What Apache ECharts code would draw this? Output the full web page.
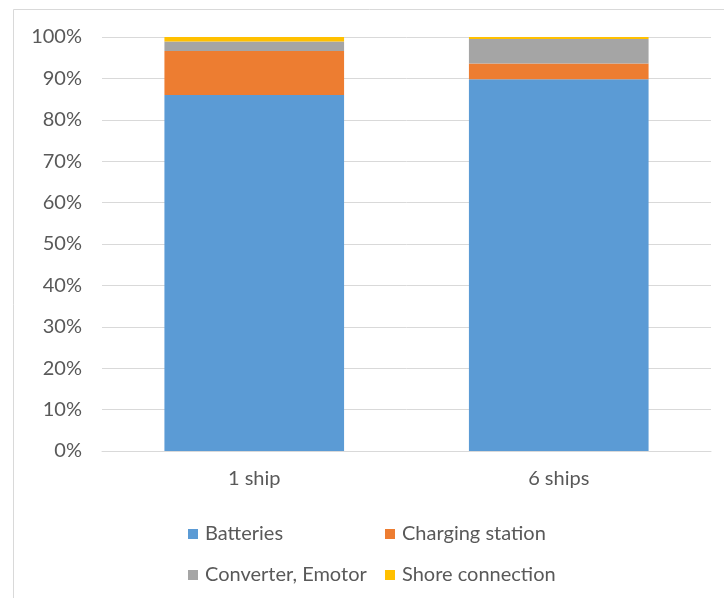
<!DOCTYPE html>
<html>
<head>
<meta charset="utf-8">
<script src="https://cdn.jsdelivr.net/npm/echarts@6/dist/echarts.min.js"></script>
<style>
  html, body { margin: 0; padding: 0; background: #fff; }
  #chart { width: 724px; height: 598px; }
</style>
</head>
<body>
<div id="chart"></div>
<script>
// Cost share by component (percent of total)
const categories = ['1 ship', '6 ships'];
const batteries = [86.0, 89.8];
const chargingStation = [10.6, 3.8];
const converterEmotor = [2.3, 5.9];
const shoreConnection = [1.1, 0.5];

const seriesNames = ['Batteries', 'Charging station', 'Converter, Emotor', 'Shore connection'];
const seriesColors = ['#5B9BD5', '#ED7D31', '#A5A5A5', '#FFC000'];
const seriesData = [batteries, chargingStation, converterEmotor, shoreConnection];

const textColor = '#595959';
const fontFamily = 'Lato, "Open Sans", sans-serif';
const fontSize = 20;

const chart = echarts.init(document.getElementById('chart'));

const legendBase = {
  orient: 'vertical',
  top: 519,
  itemWidth: 10,
  itemHeight: 10,
  itemGap: 21,
  icon: 'rect',
  textStyle: { color: textColor, fontSize: fontSize, fontFamily: fontFamily, padding: [0, 0, 0, 2] },
  selectedMode: false
};

chart.setOption({
  animation: false,
  backgroundColor: '#fff',
  graphic: [{
    type: 'rect',
    shape: { x: 13.5, y: 9.5, width: 730, height: 620 },
    style: { fill: 'none', stroke: '#d9d9d9', lineWidth: 1 },
    silent: true
  }],
  grid: { left: 102, right: 13, top: 37, bottom: 147 },
  legend: [
    Object.assign({}, legendBase, { left: 183, data: [seriesNames[0], seriesNames[2]] }),
    Object.assign({}, legendBase, { left: 380, data: [seriesNames[1], seriesNames[3]] })
  ],
  xAxis: {
    type: 'category',
    data: categories,
    axisLine: { lineStyle: { color: '#d9d9d9', width: 1 } },
    axisTick: { show: false },
    axisLabel: { color: textColor, fontSize: fontSize, fontFamily: fontFamily, margin: 18 }
  },
  yAxis: {
    type: 'value',
    min: 0,
    max: 100,
    interval: 10,
    axisLine: { show: false },
    axisTick: { show: false },
    splitLine: { lineStyle: { color: '#d9d9d9', width: 1 } },
    axisLabel: { color: textColor, fontSize: fontSize, fontFamily: fontFamily, margin: 20, formatter: '{value}%' }
  },
  series: seriesNames.map((name, i) => ({
    name: name,
    type: 'bar',
    stack: 'total',
    barWidth: '59%',
    itemStyle: { color: seriesColors[i] },
    data: seriesData[i]
  }))
});
</script>
</body>
</html>
